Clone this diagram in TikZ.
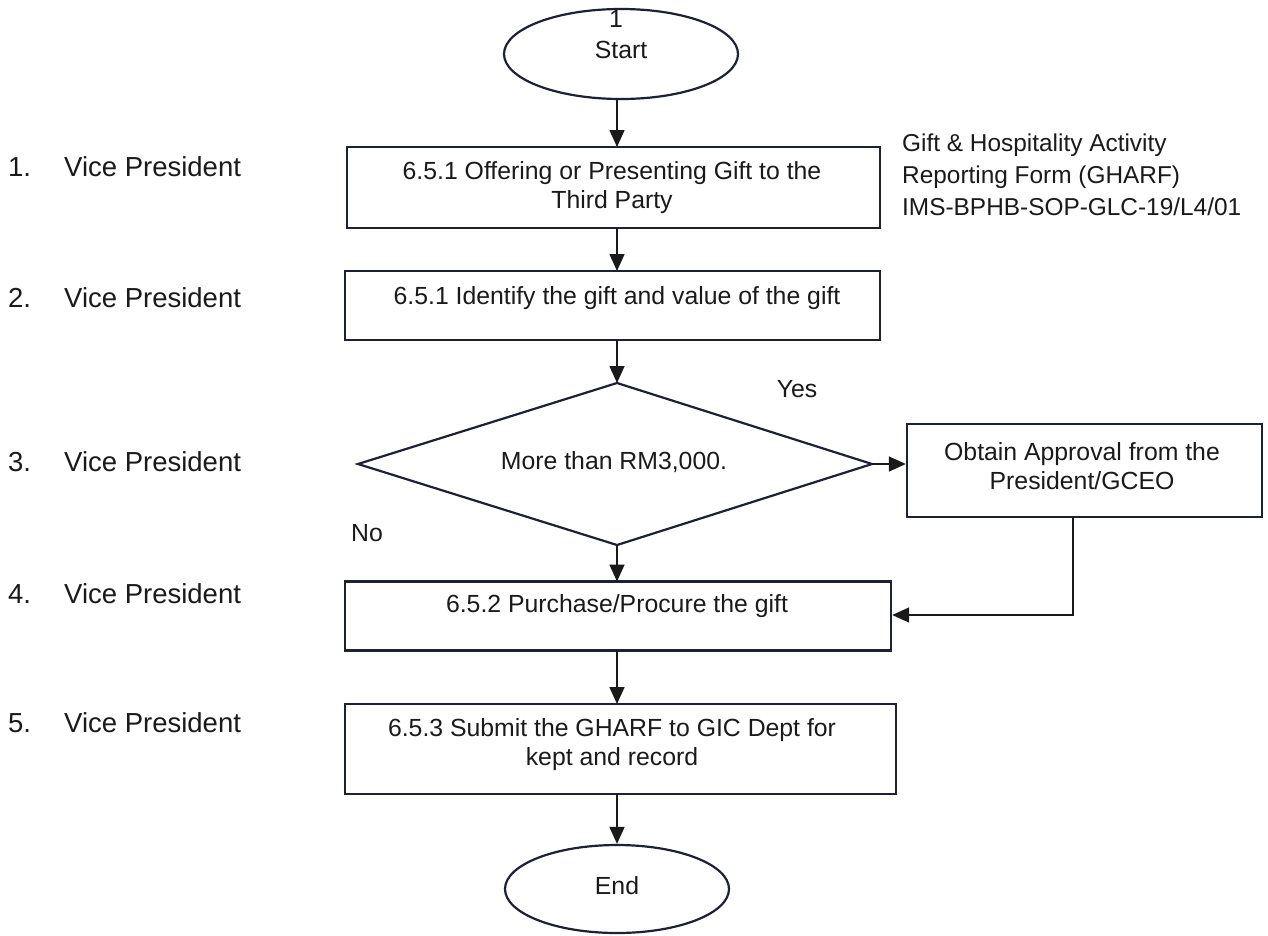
\documentclass[tikz,border=0pt]{standalone}
\usepackage{fontspec}
\setmainfont{Liberation Sans}
\usetikzlibrary{shapes.geometric,arrows.meta}
\definecolor{ink}{HTML}{1C2233}
\definecolor{txt}{HTML}{1A1A1A}
\begin{document}
\begin{tikzpicture}[x=1pt,y=-1pt,
  box/.style={draw=ink,line width=2.4pt,rectangle,inner sep=0pt},
  term/.style={draw=ink,line width=2.2pt,ellipse,inner sep=0pt},
  lbl/.style={text=txt,font=\fontsize{24.8}{29}\selectfont,align=center,inner sep=0pt},
  side/.style={text=txt,font=\fontsize{27.5}{30}\selectfont,anchor=west,inner sep=0pt},
  conn/.style={draw=txt,line width=1.6pt,-{Triangle[width=15pt,length=17pt]}}]
\useasboundingbox (0,0) rectangle (1268,935);
\fill[white] (0,0) rectangle (1268,935);
% shapes
\node[term,minimum width=234pt,minimum height=90pt] (start) at (621,54) {};
\node[box,minimum width=533pt,minimum height=81pt] (b1) at (613.5,187.5) {};
\node[box,minimum width=535pt,minimum height=69pt] (b2) at (612.5,305.5) {};
\draw[ink,line width=2.2pt] (617,383) -- (872,464) -- (617,545) -- (358,464) -- cycle;
\coordinate (dt) at (617,383);
\coordinate (dr) at (872,464);
\coordinate (db) at (617,545);
\node[box,minimum width=355pt,minimum height=93pt] (b3) at (1084.5,470.5) {};
\node[box,minimum width=546pt,minimum height=69pt] (b4) at (618,616) {};
\node[box,minimum width=551pt,minimum height=90pt] (b5) at (620.5,749) {};
\node[term,minimum width=224pt,minimum height=88pt] (end) at (617,889) {};
% texts
\node[lbl] (t0) at (616,19) {1};
\node[lbl] (tstart) at (621,50) {Start};
\node[lbl] (t1) at (612,188) {6.5.1 Offering or Presenting Gift to the\\Third Party};
\node[lbl] (t2) at (617,298) {6.5.1 Identify the gift and value of the gift};
\node[lbl] (td) at (614,462) {More than RM3,000.};
\node[lbl] (t3) at (1082,466) {Obtain Approval from the\\President/GCEO};
\node[lbl] (t4) at (617,606) {6.5.2 Purchase/Procure the gift};
\node[lbl] (t5) at (612,745) {6.5.3 Submit the GHARF to GIC Dept for\\kept and record};
\node[lbl] (tend) at (617,886) {End};
\node[lbl] (yes) at (797,389) {Yes};
\node[lbl] (no) at (367,533) {No};
\node[lbl,align=left,anchor=west,font=\fontsize{24.4}{32}\selectfont] (form) at (902,175)
  {Gift \& Hospitality Activity\\Reporting Form (GHARF)\\IMS-BPHB-SOP-GLC-19/L4/01};
% left labels
\foreach \n/\yy in {1/167,2/298,3/462,4/594,5/723}{
  \node[side] (num\n) at (8,\yy) {\n.};
  \node[side] (vp\n) at (64,\yy) {Vice President};
}
% connectors
\draw[conn] (start.south -| 617,0) -- (617,147);
\draw[conn] (617,228) -- (617,271);
\draw[conn] (617,340) -- (dt);
\draw[conn] (dr) -- (b3.west |- dr);
\draw[conn] (db) -- (617,581.5);
\draw[conn] (1073,517) -- (1073,615) -- (b4.east |- 0,615);
\draw[conn] (617,650.5) -- (617,704);
\draw[conn] (617,794) -- (end.north);
\end{tikzpicture}
\end{document}
